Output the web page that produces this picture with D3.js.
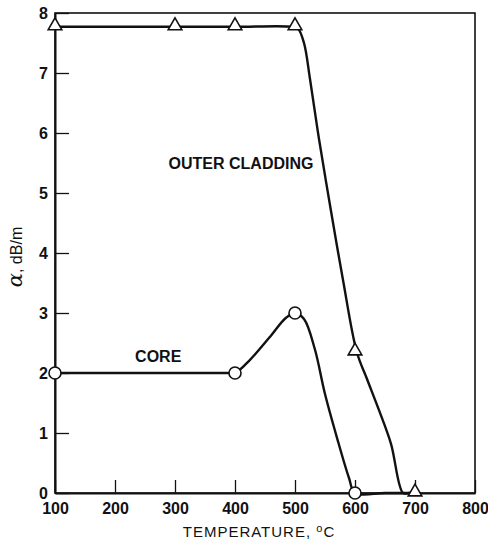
<!DOCTYPE html>
<html>
<head>
<meta charset="utf-8">
<script src="https://cdn.jsdelivr.net/npm/d3@7"></script>
<style>
  html, body { margin: 0; padding: 0; background: #fff; }
  svg { display: block; font-family: "Liberation Sans", Arial, Helvetica, sans-serif; }
</style>
</head>
<body>
<svg id="chart" width="488" height="540"></svg>
<script>
// ---- data ----
const xTicks = [100, 200, 300, 400, 500, 600, 700, 800];
const yTicks = [0, 1, 2, 3, 4, 5, 6, 7, 8];

// measured points (markers)
const outerTemp  = [100, 300, 400, 500, 600, 700];
const outerAlpha = [7.77, 7.77, 7.77, 7.77, 2.35, 0];
const coreTemp   = [100, 400, 500, 600];
const coreAlpha  = [2.0, 2.0, 3.0, 0];

// hand-drawn smooth curves
const outerCurveTemp  = [100, 300, 400, 495, 505, 515, 525, 540, 560, 580, 603, 620, 640, 660, 680, 690, 700];
const outerCurveAlpha = [7.77, 7.77, 7.77, 7.77, 7.74, 7.5, 6.9, 5.9, 4.7, 3.55, 2.35, 1.9, 1.38, 0.82, 0.0, 0, 0];
const coreCurveTemp   = [100, 390, 400, 425, 458, 485, 500, 515, 533, 550, 570, 590, 600, 650, 700];
const coreCurveAlpha  = [2.0, 2.0, 2.0, 2.22, 2.6, 2.92, 3.0, 2.9, 2.4, 1.65, 0.92, 0.25, 0, 0, 0];

const labels = [
  { text: "OUTER CLADDING", t: 410, a: 5.4 },
  { text: "CORE", t: 272, a: 2.18 }
];

// ---- drawing ----
const svg = d3.select("#chart");
const x = d3.scaleLinear().domain([100, 800]).range([55, 475]);
const y = d3.scaleLinear().domain([0, 8]).range([493, 13]);

// frame
svg.append("rect")
  .attr("x", x(100)).attr("y", y(8))
  .attr("width", x(800) - x(100)).attr("height", y(0) - y(8))
  .attr("fill", "none").attr("stroke", "#111").attr("stroke-width", 1.6);

// x axis
const gx = svg.append("g").attr("transform", `translate(0,${y(0)})`)
  .call(d3.axisBottom(x).tickValues(xTicks).tickFormat(d3.format("d"))
        .tickSizeInner(-13).tickSizeOuter(0).tickPadding(10));
gx.select(".domain").attr("stroke", "#111").attr("stroke-width", 2);
gx.selectAll(".tick line").attr("stroke", "#111").attr("stroke-width", 1.3);
gx.selectAll(".tick text").attr("font-size", 16).attr("font-weight", "bold")
  .attr("fill", "#111").attr("font-family", "Liberation Sans, Arial, sans-serif");

// y axis
const gy = svg.append("g").attr("transform", `translate(${x(100)},0)`)
  .call(d3.axisLeft(y).tickValues(yTicks).tickFormat(d3.format("d"))
        .tickSizeInner(-14).tickSizeOuter(0).tickPadding(7));
gy.select(".domain").attr("stroke", "#111").attr("stroke-width", 2);
gy.selectAll(".tick line").attr("stroke", "#111").attr("stroke-width", 1.3);
gy.selectAll(".tick text").attr("font-size", 16).attr("font-weight", "bold")
  .attr("fill", "#111").attr("font-family", "Liberation Sans, Arial, sans-serif");

// axis titles
const xt = svg.append("text")
  .attr("x", 259).attr("y", 537)
  .attr("text-anchor", "middle").attr("font-size", 15).attr("letter-spacing", 1)
  .attr("fill", "#111");
xt.append("tspan").text("TEMPERATURE, ");
xt.append("tspan").attr("font-size", 11).attr("dy", -5).text("o");
xt.append("tspan").attr("dy", 5).text("C");

const yt = svg.append("text")
  .attr("transform", "translate(22,257) rotate(-90)")
  .attr("text-anchor", "middle").attr("font-size", 16).attr("fill", "#111");
yt.append("tspan").attr("font-size", 21).attr("font-family", "DejaVu Serif, serif").attr("font-style", "italic").text("α");
yt.append("tspan").text(", dB/m");

// curves
const line = d3.line().x(d => x(d[0])).y(d => y(d[1])).curve(d3.curveCatmullRom.alpha(0.5));
const outerPts = outerCurveTemp.map((t, i) => [t, outerCurveAlpha[i]]);
const corePts  = coreCurveTemp.map((t, i) => [t, coreCurveAlpha[i]]);

svg.append("path").datum(outerPts).attr("d", line)
  .attr("fill", "none").attr("stroke", "#111").attr("stroke-width", 2.4);
svg.append("path").datum(corePts).attr("d", line)
  .attr("fill", "none").attr("stroke", "#111").attr("stroke-width", 2.4);

// markers
const tri = d3.symbol().type(d3.symbolTriangle).size(80);
svg.selectAll(".tri").data(outerTemp.map((t, i) => [t, outerAlpha[i]])).enter()
  .append("path").attr("class", "tri")
  .attr("transform", d => `translate(${x(d[0])},${y(d[1]) - 1})`)
  .attr("d", tri)
  .attr("fill", "#fff").attr("stroke", "#111").attr("stroke-width", 1.6);

svg.selectAll(".circ").data(coreTemp.map((t, i) => [t, coreAlpha[i]])).enter()
  .append("circle").attr("class", "circ")
  .attr("cx", d => x(d[0])).attr("cy", d => y(d[1])).attr("r", 6)
  .attr("fill", "#fff").attr("stroke", "#111").attr("stroke-width", 1.6);

// curve labels
svg.selectAll(".lbl").data(labels).enter()
  .append("text").attr("class", "lbl")
  .attr("x", d => x(d.t)).attr("y", d => y(d.a))
  .attr("text-anchor", "middle").attr("font-size", 16).attr("font-weight", "bold")
  .attr("fill", "#111").text(d => d.text);
</script>
</body>
</html>
